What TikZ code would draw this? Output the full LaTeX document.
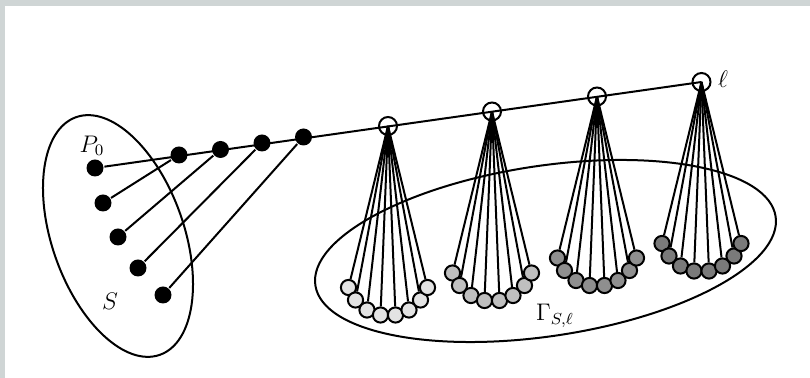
\documentclass[tikz,border=0pt]{standalone}
\usepackage{amsmath,amssymb}
\usepackage{tikz}
\usetikzlibrary{calc}
\definecolor{frame}{RGB}{207,213,213}
\definecolor{toneA}{gray}{0.89}
\definecolor{toneB}{gray}{0.75}
\definecolor{toneC}{gray}{0.56}
\definecolor{toneD}{gray}{0.48}
\tikzset{
  sdot/.style={circle,fill=black,inner sep=0pt,minimum size=8.5pt},
  hub/.style={circle,draw,inner sep=0pt,minimum size=9pt},
  bead/.style={circle,draw,inner sep=0pt,minimum size=7.6pt},
  lbl/.style={font=\large,inner sep=1pt}
}

\begin{document}
\begin{tikzpicture}[x=0.5pt,y=-0.5pt,line width=1pt]
   \useasboundingbox (0,0) rectangle (810,378);
   \fill[frame] (0,0) rectangle (810,6);
   \fill[frame] (0,0) rectangle (5,378);
   % the two sets
   \draw[shift={(118,236)},rotate=19.4] (0,0) ellipse [x radius=66,y radius=126];
   \draw[shift={(545.5,251)},rotate=8.5] (0,0) ellipse [x radius=232.7,y radius=85.2];
   % points of S and on the line
   \node[sdot] (p0) at (95,168) {};
   \node[sdot] (s1) at (103,203) {};
   \node[sdot] (s2) at (118,237) {};
   \node[sdot] (s3) at (138,268) {};
   \node[sdot] (s4) at (163,295) {};
   \node[sdot] (m1) at (179,155) {};
   \node[sdot] (m2) at (220.5,149.5) {};
   \node[sdot] (m3) at (262,143) {};
   \node[sdot] (m4) at (303.5,137) {};
   \node[hub] (a1) at (388,126) {};
   \node[hub] (a2) at (492,111.5) {};
   \node[hub] (a3) at (597,96.5) {};
   \node[hub] (a4) at (701.5,82) {};
   \draw (p0) -- (a4.center);
   \draw (s1) -- (m1);
   \draw (s2) -- (m2);
   \draw (s3) -- (m3);
   \draw (s4) -- (m4);
   % the cones
   \foreach \k/\tone in {1/toneA,2/toneB,3/toneC,4/toneD}{
      \foreach \i/\dx/\dy in {1/-39.5/161.5,2/-32.5/174,3/-21/184,4/-7.5/189,
                              5/7.5/189,6/21/184,7/32.5/174,8/39.5/161.5}{
         \node[bead,fill=\tone] (b\k\i) at ($(a\k)+(\dx,\dy)$) {};
         \draw (a\k.center) -- (b\k\i);
      }
   }
   \node[lbl] (lblP) at (92,146) {$P_0$};
   \node[lbl] (lblS) at (110,301) {$S$};
   \node[lbl] (lblL) at (723,79) {$\ell$};
   \node[lbl] (lblG) at (555,316) {$\Gamma_{S,\ell}$};
\end{tikzpicture}
\end{document}
